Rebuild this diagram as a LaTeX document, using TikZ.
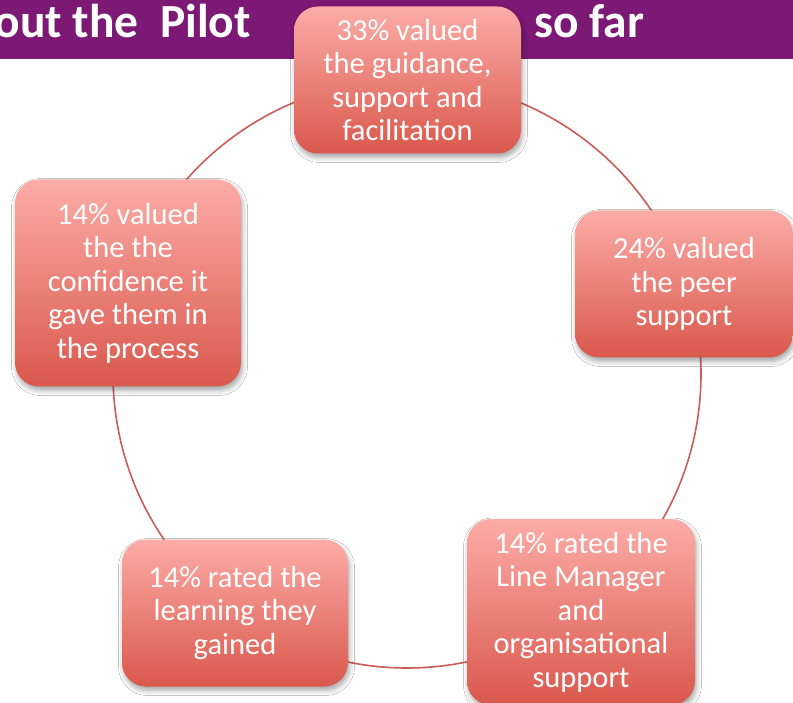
\documentclass[tikz,border=0pt]{standalone}
\usepackage{fontspec}
\setmainfont{Carlito}
\usetikzlibrary{shadows.blur}

\definecolor{bannerpurple}{RGB}{123,25,116}
\definecolor{ringred}{RGB}{203,92,87}
\definecolor{boxtop}{RGB}{252,172,167}
\definecolor{boxbottom}{RGB}{217,88,76}

\tikzset{
  benefit/.style={
    rounded corners=24pt,
    top color=boxtop, bottom color=boxbottom,
    text=white, align=center,
    font=\fontsize{30.5}{33.5}\selectfont,
    inner sep=0pt,
    blur shadow={shadow xshift=1.5pt, shadow yshift=-4pt,
                 shadow blur radius=5pt, shadow opacity=35}
  },
  ring/.style={draw=ringred, line width=1.6pt},
  headline/.style={text=white, font=\fontsize{47.5}{50}\selectfont\bfseries, inner sep=0pt}
}

\begin{document}
\begin{tikzpicture}[x=1pt,y=-1pt]
  \useasboundingbox (0,0) rectangle (793,703);
  \fill[white] (0,0) rectangle (793,703);

  % title banner
  \fill[bannerpurple] (0,0) rectangle (793,59);
  \node[headline, anchor=base east] (head1) at (251,38) {out the\ \ Pilot};
  \node[headline, anchor=base west] (head2) at (534,38) {so far};

  % cycle ring behind the boxes
  \coordinate (hub) at (407,374);
  \draw[ring] (hub) circle[radius=294];

  % benefit boxes around the ring
  \node[benefit, minimum width=227pt, minimum height=147pt] (guide) at (407.5,80)
    {33\% valued\\the guidance,\\support and\\facilitation};
  \node[benefit, minimum width=218pt, minimum height=147pt] (peer) at (684,284)
    {24\% valued\\the peer\\support};
  \node[benefit, minimum width=228pt, minimum height=186pt] (manager) at (581,612)
    {14\% rated the\\Line Manager\\and\\organisational\\support};
  \node[benefit, minimum width=226pt, minimum height=147pt] (learn) at (235,613)
    {14\% rated the\\learning they\\gained};
  \node[benefit, minimum width=226pt, minimum height=207pt] (conf) at (128,283)
    {14\% valued\\the the\\confidence it\\gave them in\\the process};
\end{tikzpicture}
\end{document}
